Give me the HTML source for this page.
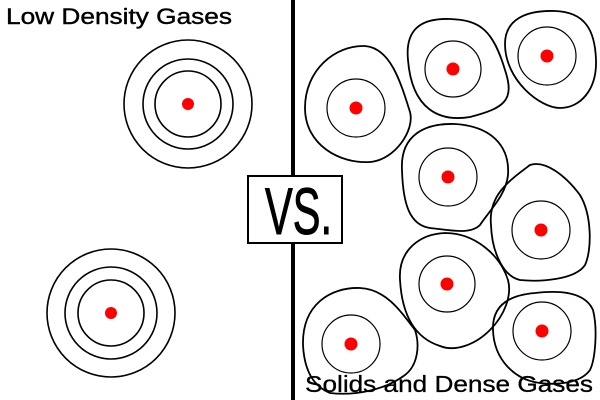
<!DOCTYPE html><html><head><style>body{margin:0;background:#fff}svg{display:block}</style></head><body>
<svg width="600" height="400" viewBox="0 0 600 400" xmlns="http://www.w3.org/2000/svg">
<rect width="600" height="400" fill="#fff"/>
<line x1="293" y1="0" x2="293" y2="400" stroke="#000" stroke-width="4"/>
<g fill="none" stroke="#000" stroke-width="1.6">
<circle cx="188" cy="104" r="64"/><circle cx="188" cy="104" r="45"/><circle cx="188" cy="104" r="33"/>
<circle cx="111" cy="313" r="64"/><circle cx="111" cy="313" r="46"/><circle cx="111" cy="313" r="33"/>
</g>
<g fill="none" stroke="#000" stroke-width="1.8">
<path d="M305,108 C305,70 335,45 365,46 C390,48 400,80 410,112 C415,130 395,160 370,162 C340,164 305,145 305,108 Z"/>
<path d="M408,60 C405,30 420,18 450,19 C480,20 493,30 505,70 C515,100 505,108 470,117 C440,122 412,110 408,60 Z"/>
<path d="M505,44 C505,20 525,10 555,11 C585,12 595,30 596,60 C597,90 580,108 560,108 C540,108 505,80 505,44 Z"/>
<path d="M402,170 C400,135 425,123 455,124 C490,126 510,145 508,175 C506,195 490,210 480,225 C470,235 450,230 430,228 C410,225 403,205 402,170 Z"/>
<path d="M491,225 C488,195 510,180 530,165 C545,160 565,175 580,195 C592,215 592,250 585,265 C575,280 540,282 520,280 C505,277 492,255 491,225 Z"/>
<path d="M400,280 C398,250 420,234 445,233 C475,233 500,255 508,280 C512,295 505,315 490,330 C475,345 455,352 440,346 C415,338 402,315 400,280 Z"/>
<path d="M303,345 C302,305 330,287 360,288 C385,289 400,310 415,330 C420,345 418,365 405,375 C385,390 355,396 330,393 C310,385 304,365 303,345 Z"/>
<path d="M493,330 C492,305 510,295 535,293 C560,290 585,292 593,310 C598,330 595,360 590,370 C580,384 555,385 540,383 C515,380 494,360 493,330 Z"/>
</g>
<g fill="none" stroke="#000" stroke-width="1.2">
<circle cx="356" cy="108" r="29"/><circle cx="453" cy="69" r="28"/><circle cx="547" cy="56" r="29"/>
<circle cx="448" cy="177" r="29"/><circle cx="541" cy="230" r="29"/><circle cx="447" cy="284" r="28"/>
<circle cx="351" cy="344" r="29"/><circle cx="542" cy="331" r="29"/>
</g>
<g fill="#f00">
<circle cx="188" cy="104" r="6"/><circle cx="111" cy="313" r="6"/>
<circle cx="356" cy="108" r="6.5"/><circle cx="453" cy="69" r="6.5"/><circle cx="547" cy="56" r="6.5"/>
<circle cx="448" cy="177" r="6.5"/><circle cx="541" cy="230" r="6.5"/><circle cx="447" cy="284" r="6.5"/>
<circle cx="351" cy="344" r="6.5"/><circle cx="542" cy="331" r="6.5"/>
</g>
<rect x="248" y="176" width="94" height="67" fill="#fff" stroke="#000" stroke-width="2"/>
<text x="265" y="234" font-family="Liberation Sans Narrow, Liberation Sans, sans-serif" font-size="66" textLength="67" lengthAdjust="spacingAndGlyphs" stroke="#000" stroke-width="1">VS.</text>
<text x="6" y="24" font-family="Liberation Sans, sans-serif" font-size="22" textLength="226" lengthAdjust="spacingAndGlyphs" stroke="#000" stroke-width="0.4">Low Density Gases</text>
<text x="305" y="392" font-family="Liberation Sans, sans-serif" font-size="23" textLength="288" lengthAdjust="spacingAndGlyphs" stroke="#000" stroke-width="0.3">Solids and Dense Gases</text>
</svg>
</body></html>
